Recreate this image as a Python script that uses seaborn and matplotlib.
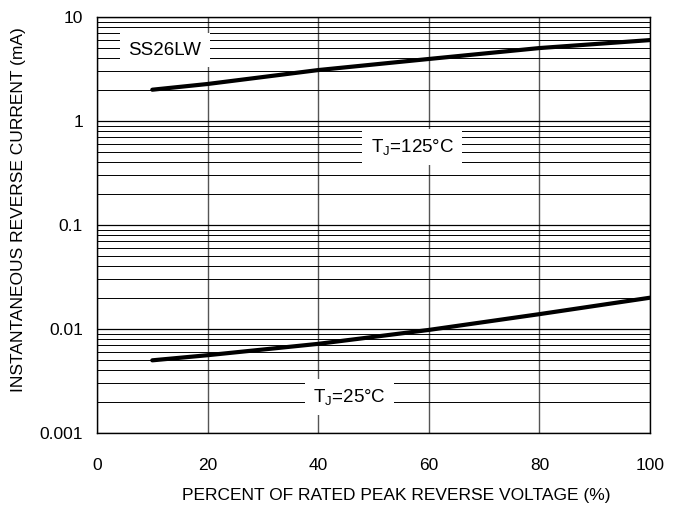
import matplotlib
matplotlib.use("Agg")
import matplotlib.pyplot as plt
import matplotlib.ticker as mticker
import numpy as np
import pandas as pd
import seaborn as sns

# Data
voltage_pct = [10, 20, 40, 60, 80, 100]
current_125C = [2.0, 2.27, 3.09, 3.95, 5.03, 6.0]
current_25C = [0.0050, 0.0056, 0.0072, 0.0098, 0.0139, 0.0200]
y_ticks = [0.001, 0.01, 0.1, 1, 10]
y_tick_labels = ["0.001", "0.01", "0.1", "1", "10"]
x_ticks = [0, 20, 40, 60, 80, 100]

df = pd.DataFrame({
    "pct": voltage_pct * 2,
    "current": current_125C + current_25C,
    "series": ["125"] * len(voltage_pct) + ["25"] * len(voltage_pct),
})

sns.set_style("white")
plt.rcParams["font.family"] = ["Liberation Sans", "DejaVu Sans"]
plt.rcParams["mathtext.default"] = "regular"
plt.rcParams["text.color"] = "black"
plt.rcParams["axes.labelcolor"] = "black"

fig = plt.figure(figsize=(6.82, 5.08), dpi=100)
ax = fig.add_axes([0.1422, 0.1476, 0.9531 - 0.1422, 0.9665 - 0.1476])

ax.set_yscale("log")
ax.set_ylim(0.001, 10)
ax.set_xlim(0, 100)

# grid
ax.yaxis.set_major_locator(mticker.FixedLocator(y_ticks))
ax.yaxis.set_minor_locator(mticker.LogLocator(base=10, subs=np.arange(2, 10)))
ax.yaxis.set_minor_formatter(mticker.NullFormatter())
ax.set_yticklabels(y_tick_labels)
ax.set_xticks(x_ticks)
ax.grid(True, which="major", axis="y", color="black", lw=0.9)
ax.grid(True, which="minor", axis="y", color="black", lw=0.7)
ax.grid(True, which="major", axis="x", color="#555555", lw=1.0)

sns.lineplot(data=df, x="pct", y="current", units="series", estimator=None,
             color="black", lw=3.0, ax=ax, legend=False, zorder=3)

ax.tick_params(axis="both", which="both", length=0, labelsize=12.5,
               colors="black", labelcolor="black")
ax.tick_params(axis="x", pad=18)
ax.tick_params(axis="y", pad=10)
for s in ax.spines.values():
    s.set_color("black")
    s.set_linewidth(1.0)

ax.set_xlabel("PERCENT OF RATED PEAK REVERSE VOLTAGE (%)", fontsize=12.5, color="black")
ax.xaxis.set_label_coords(0.541, -0.133)
ax.set_ylabel("INSTANTANEOUS REVERSE CURRENT (mA)", fontsize=12.5, color="black")
ax.yaxis.set_label_coords(-0.128, 0.536)

box = dict(facecolor="white", edgecolor="none", pad=6)
ax.text(12.3, 4.8, "SS26LW", fontsize=13.5, ha="center", va="center", bbox=box,
        zorder=4, color="black")
ax.text(57.0, 0.56, "T$_J$=125°C", fontsize=13.5, ha="center", va="center", bbox=box,
        zorder=4, color="black")
ax.text(45.7, 0.00222, "T$_J$=25°C", fontsize=13.5, ha="center", va="center", bbox=box,
        zorder=4, color="black")

fig.savefig("out.png", dpi=100)
